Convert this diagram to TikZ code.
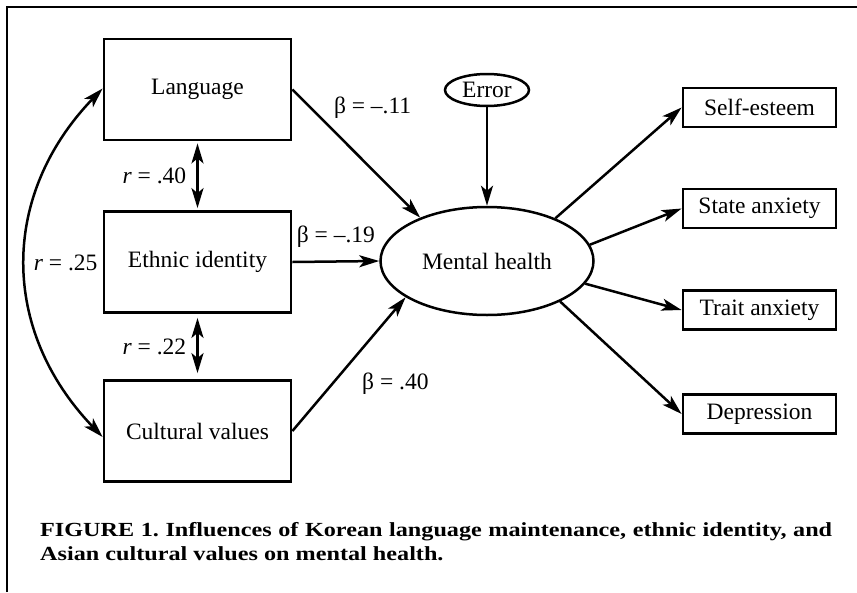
\documentclass[tikz,border=0pt]{standalone}
\usepackage{fontspec}
\setmainfont{Liberation Serif}
\newfontfamily\captionfont[FakeStretch=1.21]{Liberation Serif}
\usetikzlibrary{arrows.meta,shapes.geometric}

\begin{document}
\begin{tikzpicture}[
            x=1pt, y=-1pt,
            >={Stealth[length=20pt,width=12pt,inset=5pt]},
            font=\fontsize{23.5}{26}\selectfont,
            varbox/.style={draw, rectangle, line width=2.8pt, inner sep=0pt, minimum width=187pt, minimum height=101pt},
            outbox/.style={draw, rectangle, line width=2.8pt, inner sep=0pt, minimum width=153pt, minimum height=39pt},
            latent/.style={draw, ellipse, line width=2.5pt, inner sep=0pt},
            effect/.style={->, line width=2.5pt},
            corr/.style={<->, line width=2.5pt},
            coef/.style={inner sep=2pt}
        ]
		\useasboundingbox (0,0) rectangle (857,592);
		
		%Frame
		\draw[line width=2.8pt] (7,592) -- (7,7) -- (857,7);
		
		%Predictors
		\node[varbox] (language) at (197.5,89.5) {Language};
		\node[varbox] (ethnic) at (197.5,262) {Ethnic identity};
		\node[varbox] (cultural) at (197.5,431) {Cultural values};
		
		%Latent
		\node[latent, minimum width=213pt, minimum height=108pt] (mental) at (487,261) {Mental health};
		\node[latent, minimum width=84pt, minimum height=32pt] (error) at (487,90) {Error};
		
		%Outcomes
		\node[outbox] (selfesteem) at (759.5,107.5) {Self-esteem};
		\node[outbox] (state) at (759.5,208.5) {State anxiety};
		\node[outbox] (trait) at (759.5,310) {Trait anxiety};
		\node[outbox] (depression) at (759.5,414) {Depression};
		
		%Correlations
		\draw[corr, shorten <=2pt, shorten >=2pt] (language.south) -- (ethnic.north)
			node[coef, midway, left=8pt] {\textit{r} = .40};
		\draw[corr, shorten <=4pt, shorten >=6pt] (ethnic.south) -- (cultural.north)
			node[coef, midway, left=8pt] {\textit{r} = .22};
		\draw[corr] ([yshift=-6pt]cultural.west) .. controls (0,330) and (0,195) .. ([yshift=1pt]language.west)
			node[coef, pos=0.5, right=5pt] {\textit{r} = .25};
		
		%Paths
		\draw[effect] (language.east) -- (mental.147)
			node[coef, pos=0.3, anchor=south west, yshift=6pt] {β = --.11};
		\draw[effect] (ethnic.east) -- (mental.west)
			node[coef, midway, above=11pt] {β = --.19};
		\draw[effect] (cultural.east) -- (mental.204)
			node[coef, pos=0.455, anchor=north west, xshift=15pt] {β = .40};
		\draw[effect] (error.south) -- (mental.north);
		
		\draw[effect] (mental.32) -- (selfesteem.west);
		\draw[effect] (mental.9) -- (state.west);
		\draw[effect] (mental.347) -- (trait.west);
		\draw[effect] (mental.331) -- (depression.west);
		
		%Caption
		\node[anchor=north west, text width=792pt, align=justify, inner sep=0pt,
			font=\captionfont\bfseries\fontsize{20}{24}\selectfont\frenchspacing] (caption) at (40,522)
			{FIGURE 1. Influences of Korean language maintenance, ethnic identity, and\linebreak Asian cultural values on mental health.};
    \end{tikzpicture}
\end{document}
